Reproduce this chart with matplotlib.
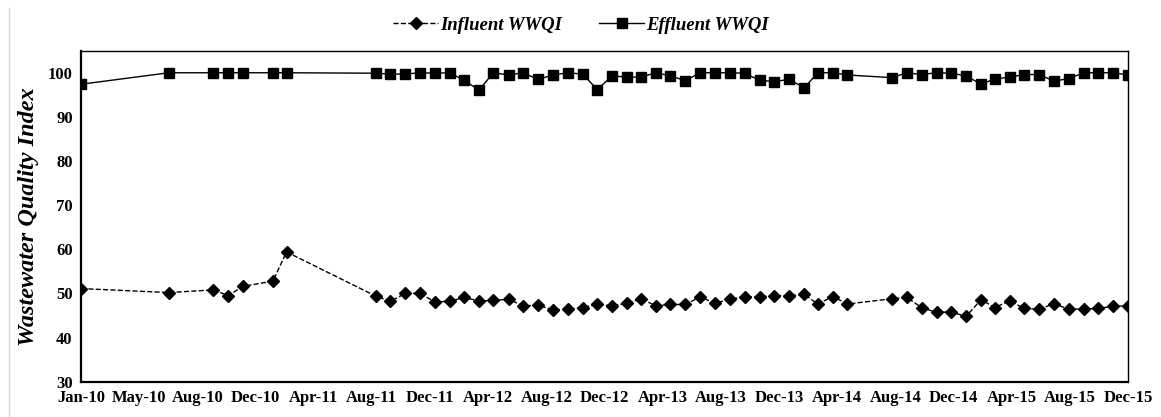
import datetime as dt
import matplotlib
matplotlib.use("Agg")
import matplotlib.pyplot as plt
import matplotlib.dates as mdates
from matplotlib.lines import Line2D

# sampling months (year, month) - gaps where no data exists
months = ([(2010, 1), (2010, 7), (2010, 10), (2010, 11), (2010, 12), (2011, 2), (2011, 3)]
          + [(2011 + (8 + i) // 12, (8 + i) % 12 + 1) for i in range(33)]     # Sep-11 .. May-14
          + [(2014 + (7 + i) // 12, (7 + i) % 12 + 1) for i in range(17)])    # Aug-14 .. Dec-15
dates = [dt.date(y, m, 1) for y, m in months]

influent = [51.1, 50.2, 50.8, 49.5, 51.6, 52.8, 59.4,
            49.4, 48.2, 50.0, 50.0, 48.1, 48.2, 49.1, 48.3, 48.4, 48.7, 47.2, 47.3,
            46.3, 46.4, 46.8, 47.5, 47.2, 47.8, 48.8, 47.2, 47.5, 47.5, 49.2, 47.8,
            48.7, 49.2, 49.2, 49.5, 49.5, 49.8, 47.6, 49.3, 47.6,
            48.8, 49.1, 46.8, 45.7, 45.8, 44.8, 48.6, 46.8, 48.3, 46.6, 46.4, 47.7,
            46.4, 46.5, 46.6, 47.1, 47.2]

effluent = [97.4, 100.0, 100.0, 100.0, 100.0, 100.0, 100.0,
            99.9, 99.7, 99.7, 100.0, 99.9, 100.0, 98.3, 96.1, 100.0, 99.5, 100.0, 98.5,
            99.5, 100.0, 99.7, 96.2, 99.3, 99.0, 99.0, 100.0, 99.3, 98.2, 100.0, 100.0,
            100.0, 99.9, 98.3, 98.0, 98.5, 96.6, 100.0, 100.0, 99.5,
            98.9, 100.0, 99.6, 100.0, 99.9, 99.3, 97.4, 98.6, 99.0, 99.6, 99.6, 98.1,
            98.7, 100.0, 100.0, 100.0, 99.5]

# Excel style date axis: a tick every 120 days from Jan-10
start = dt.date(2010, 1, 1)
tick_dates = [start + dt.timedelta(days=120 * k) for k in range(19)]

plt.rcParams['font.family'] = ['Liberation Serif', 'DejaVu Serif']

fig = plt.figure(figsize=(11.61, 4.17), dpi=100)
ax = fig.add_axes([81 / 1161, 1 - 381.7 / 417, (1128 - 81) / 1161, (381.7 - 50.7) / 417])

ax.plot(dates, influent, color='black', linestyle='--', linewidth=1.0,
        marker='D', markersize=6.5, label='Influent WWQI')
ax.plot(dates, effluent, color='black', linestyle='-', linewidth=1.0,
        marker='s', markersize=7.5, label='Effluent WWQI')

ax.set_xlim(mdates.date2num(start), mdates.date2num(tick_dates[-1]))
ax.set_xticks([mdates.date2num(d) for d in tick_dates])
ax.set_xticklabels([d.strftime('%b-%y') for d in tick_dates], fontsize=12, fontweight='bold')
ax.set_ylim(30, 105)
ax.set_yticks(range(30, 101, 10))
for lab in ax.get_yticklabels():
    lab.set_fontsize(12)
    lab.set_fontweight('bold')
ax.tick_params(length=0, pad=6)

for s in ['left', 'bottom']:
    ax.spines[s].set_linewidth(1.6)
for s in ['top', 'right']:
    ax.spines[s].set_linewidth(1.0)

ax.set_ylabel('Wastewater Quality Index', fontsize=17.5, fontweight='bold', fontstyle='italic', labelpad=6)

fig.legend(loc='center', bbox_to_anchor=(581 / 1161, 1 - 25 / 417), ncol=2, frameon=False,
           prop={'size': 13.5, 'weight': 'bold', 'style': 'italic'},
           handlelength=2.4, handletextpad=0.1, columnspacing=2.0)

# faint border line at the far left of the image
fig.add_artist(Line2D([8.5 / 1161, 8.5 / 1161], [0, 1 - 8 / 417], color='#d9d9d9', linewidth=1.0))

fig.savefig('out.png', dpi=100)
